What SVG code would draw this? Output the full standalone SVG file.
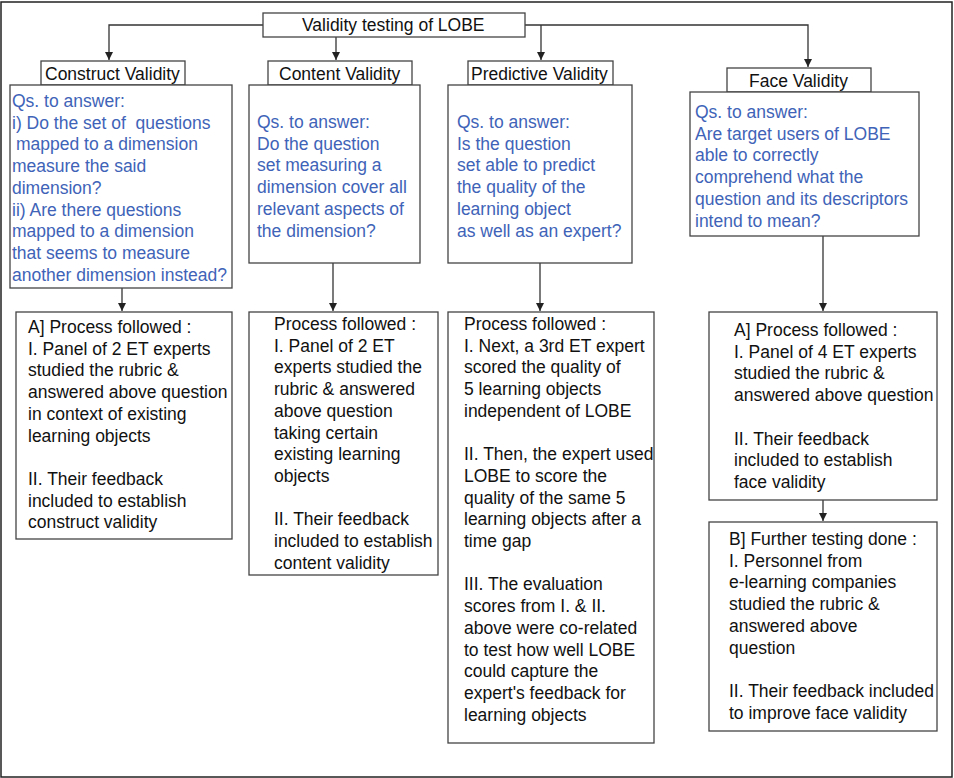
<svg xmlns="http://www.w3.org/2000/svg" width="954" height="778" viewBox="0 0 954 778">
<defs>
<marker id="arr" markerUnits="userSpaceOnUse" markerWidth="10" markerHeight="10" refX="8" refY="4" orient="auto">
<path d="M0,0 L8,4 L0,8 Z" fill="#222"/>
</marker>
<style>
.box{fill:#fff;stroke:#444;stroke-width:1.3}
.t{font-family:"Liberation Sans",Arial,sans-serif;font-size:17.5px;fill:#111}
.q{font-family:"Liberation Sans",Arial,sans-serif;font-size:17.5px;fill:#4063b8}
.c{fill:none;stroke:#333;stroke-width:1.3}
</style>
</defs>
<rect x="0" y="0" width="954" height="778" fill="#fff"/>
<rect x="1" y="2" width="951" height="775" fill="none" stroke="#222" stroke-width="1.5"/>

<g id="connectors">
<path class="c" d="M263,25 H109 V60" marker-end="url(#arr)"/>
<path class="c" d="M336,37 V60" marker-end="url(#arr)"/>
<path class="c" d="M525,25 H808 V67" marker-end="url(#arr)"/>
<path class="c" d="M541,25 V60" marker-end="url(#arr)"/>
<path class="c" d="M122,288 V311" marker-end="url(#arr)"/>
<path class="c" d="M333,263 V311" marker-end="url(#arr)"/>
<path class="c" d="M540,263 V311" marker-end="url(#arr)"/>
<path class="c" d="M823,236 V311" marker-end="url(#arr)"/>
<path class="c" d="M823,500 V521" marker-end="url(#arr)"/>
</g>

<g id="title">
<rect class="box" x="263" y="13" width="262" height="24"/>
<text class="t" x="302" y="31">Validity testing of LOBE</text>
</g>

<g id="construct-label">
<rect class="box" x="41" y="61" width="144" height="24"/>
<text class="t" x="45" y="80">Construct Validity</text>
</g>
<g id="construct-qs">
<rect class="box" x="10" y="85" width="222" height="203"/>
<text class="q" x="12" y="107"><tspan x="12">Qs. to answer:</tspan><tspan x="12" dy="21.7">i) Do the set of&#160; questions</tspan><tspan x="16" dy="21.7">mapped to a dimension</tspan><tspan x="12" dy="21.7">measure the said</tspan><tspan x="12" dy="21.7">dimension?</tspan><tspan x="12" dy="21.7">ii) Are there questions</tspan><tspan x="12" dy="21.7">mapped to a dimension</tspan><tspan x="12" dy="21.7">that seems to measure</tspan><tspan x="12" dy="21.7">another dimension instead?</tspan></text>
</g>
<g id="construct-process">
<rect class="box" x="16" y="312" width="216" height="227"/>
<text class="t" x="28" y="333"><tspan x="28">A] Process followed :</tspan><tspan x="28" dy="21.7">I. Panel of 2 ET experts</tspan><tspan x="28" dy="21.7">studied the rubric &amp;</tspan><tspan x="28" dy="21.7">answered above question</tspan><tspan x="28" dy="21.7">in context of existing</tspan><tspan x="28" dy="21.7">learning objects</tspan><tspan x="28" dy="43.4">II. Their feedback</tspan><tspan x="28" dy="21.7">included to establish</tspan><tspan x="28" dy="21.7">construct validity</tspan></text>
</g>

<g id="content-label">
<rect class="box" x="268" y="61" width="144" height="24"/>
<text class="t" x="279" y="80">Content Validity</text>
</g>
<g id="content-qs">
<rect class="box" x="249" y="85" width="171" height="178"/>
<text class="q" x="257" y="128"><tspan x="257">Qs. to answer:</tspan><tspan x="257" dy="21.7">Do the question</tspan><tspan x="257" dy="21.7">set measuring a</tspan><tspan x="257" dy="21.7">dimension cover all</tspan><tspan x="257" dy="21.7">relevant aspects of</tspan><tspan x="257" dy="21.7">the dimension?</tspan></text>
</g>
<g id="content-process">
<rect class="box" x="249" y="312" width="189" height="263"/>
<text class="t" x="274" y="330"><tspan x="274">Process followed :</tspan><tspan x="274" dy="21.7">I. Panel of 2 ET</tspan><tspan x="274" dy="21.7">experts studied the</tspan><tspan x="274" dy="21.7">rubric &amp; answered</tspan><tspan x="274" dy="21.7">above question</tspan><tspan x="274" dy="21.7">taking certain</tspan><tspan x="274" dy="21.7">existing learning</tspan><tspan x="274" dy="21.7">objects</tspan><tspan x="274" dy="43.4">II. Their feedback</tspan><tspan x="274" dy="21.7">included to establish</tspan><tspan x="274" dy="21.7">content validity</tspan></text>
</g>

<g id="predictive-label">
<rect class="box" x="468" y="61" width="145" height="24"/>
<text class="t" x="471" y="80">Predictive Validity</text>
</g>
<g id="predictive-qs">
<rect class="box" x="448" y="85" width="184" height="178"/>
<text class="q" x="457" y="128"><tspan x="457">Qs. to answer:</tspan><tspan x="457" dy="21.7">Is the question</tspan><tspan x="457" dy="21.7">set able to predict</tspan><tspan x="457" dy="21.7">the quality of the</tspan><tspan x="457" dy="21.7">learning object</tspan><tspan x="457" dy="21.7">as well as an expert?</tspan></text>
</g>
<g id="predictive-process">
<rect class="box" x="448" y="312" width="206" height="431"/>
<text class="t" x="464" y="330"><tspan x="464">Process followed :</tspan><tspan x="464" dy="21.7">I. Next, a 3rd ET expert</tspan><tspan x="464" dy="21.7">scored the quality of</tspan><tspan x="464" dy="21.7">5 learning objects</tspan><tspan x="464" dy="21.7">independent of LOBE</tspan><tspan x="464" dy="43.4">II. Then, the expert used</tspan><tspan x="464" dy="21.7">LOBE to score the</tspan><tspan x="464" dy="21.7">quality of the same 5</tspan><tspan x="464" dy="21.7">learning objects after a</tspan><tspan x="464" dy="21.7">time gap</tspan><tspan x="464" dy="43.4">III. The evaluation</tspan><tspan x="464" dy="21.7">scores from I. &amp; II.</tspan><tspan x="464" dy="21.7">above were co-related</tspan><tspan x="464" dy="21.7">to test how well LOBE</tspan><tspan x="464" dy="21.7">could capture the</tspan><tspan x="464" dy="21.7">expert's feedback for</tspan><tspan x="464" dy="21.7">learning objects</tspan></text>
</g>

<g id="face-label">
<rect class="box" x="727" y="68" width="144" height="24"/>
<text class="t" x="749" y="87">Face Validity</text>
</g>
<g id="face-qs">
<rect class="box" x="690" y="92" width="229" height="144"/>
<text class="q" x="695" y="118"><tspan x="695">Qs. to answer:</tspan><tspan x="695" dy="21.7">Are target users of LOBE</tspan><tspan x="695" dy="21.7">able to correctly</tspan><tspan x="695" dy="21.7">comprehend what the</tspan><tspan x="695" dy="21.7">question and its descriptors</tspan><tspan x="695" dy="21.7">intend to mean?</tspan></text>
</g>
<g id="face-process-a">
<rect class="box" x="709" y="312" width="228" height="188"/>
<text class="t" x="734" y="336"><tspan x="734">A] Process followed :</tspan><tspan x="734" dy="21.7">I. Panel of 4 ET experts</tspan><tspan x="734" dy="21.7">studied the rubric &amp;</tspan><tspan x="734" dy="21.7">answered above question</tspan><tspan x="734" dy="43.4">II. Their feedback</tspan><tspan x="734" dy="21.7">included to establish</tspan><tspan x="734" dy="21.7">face validity</tspan></text>
</g>
<g id="face-testing-b">
<rect class="box" x="709" y="522" width="228" height="209"/>
<text class="t" x="729" y="545"><tspan x="729">B] Further testing done :</tspan><tspan x="729" dy="21.7">I. Personnel from</tspan><tspan x="729" dy="21.7">e-learning companies</tspan><tspan x="729" dy="21.7">studied the rubric &amp;</tspan><tspan x="729" dy="21.7">answered above</tspan><tspan x="729" dy="21.7">question</tspan><tspan x="729" dy="43.4">II. Their feedback included</tspan><tspan x="729" dy="21.7">to improve face validity</tspan></text>
</g>
</svg>
